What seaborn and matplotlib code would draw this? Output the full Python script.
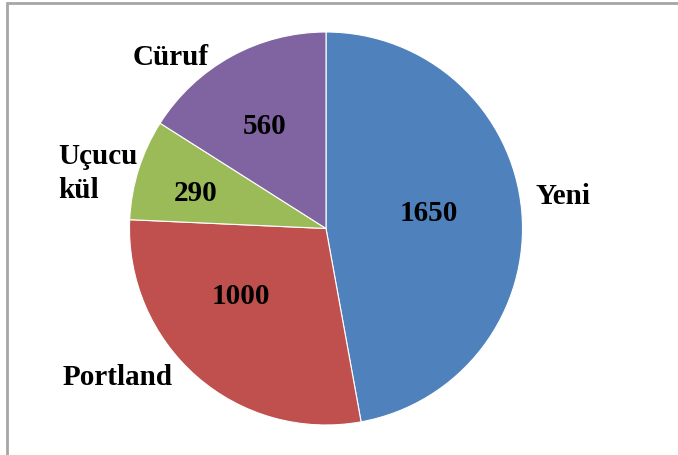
import matplotlib
matplotlib.use("Agg")
import matplotlib.pyplot as plt
import seaborn as sns
import numpy as np

categories = ["Yeni", "Portland", "Uçucu\nkül", "Cüruf"]
values = [1650, 1000, 290, 560]
value_labels = ["1650", "1000", "290", "560"]

sns.set_theme(style="white")
plt.rcParams['font.family'] = ['Liberation Serif', 'DejaVu Serif']

colors = ["#4F81BD", "#C0504D", "#9BBB59", "#8064A2"]

fig = plt.figure(figsize=(6.78, 4.56), dpi=100)
fig.patch.set_facecolor("white")
# outer border like the source
fig.add_artist(plt.Rectangle((7 / 678, -0.05), 1.1, 1.05 - 4 / 456, transform=fig.transFigure,
                             fill=False, edgecolor="#A6A6A6", linewidth=2))

cx, cy, r = 326, 229.5, 196.5
ax = fig.add_axes([(cx - r) / 678, (456 - cy - r) / 456, 2 * r / 678, 2 * r / 456])
wedges, _ = ax.pie(values, colors=colors, startangle=90, counterclock=False,
                   wedgeprops=dict(edgecolor="white", linewidth=0.8))
ax.set_aspect("equal")
ax.set_xlim(-1, 1)
ax.set_ylim(-1, 1)
ax.axis("off")

# label placement: (x, y, ha) for names, (radius, angle) for values
name_pos = [(1.205, 0.17, "center"), (-1.06, -0.755, "center"), (-1.365, 0.285, "left"), (-0.79, 0.875, "center")]
val_pos = [(0.53, 8.7), (0.55, -142), (0.69, 164.6), (0.61, 121)]
fs = 21
for name, vl, (xn, yn, ha), (rv, av) in zip(categories, value_labels, name_pos, val_pos):
    ax.text(xn, yn, name, ha=ha, va="center", fontsize=fs, fontweight="bold", color="black",
            linespacing=1.32, multialignment="left", clip_on=False)
    ax.text(rv * np.cos(np.radians(av)), rv * np.sin(np.radians(av)), vl,
            ha="center", va="center", fontsize=fs, fontweight="bold", color="black")

fig.savefig("out.png", dpi=100, facecolor="white")
